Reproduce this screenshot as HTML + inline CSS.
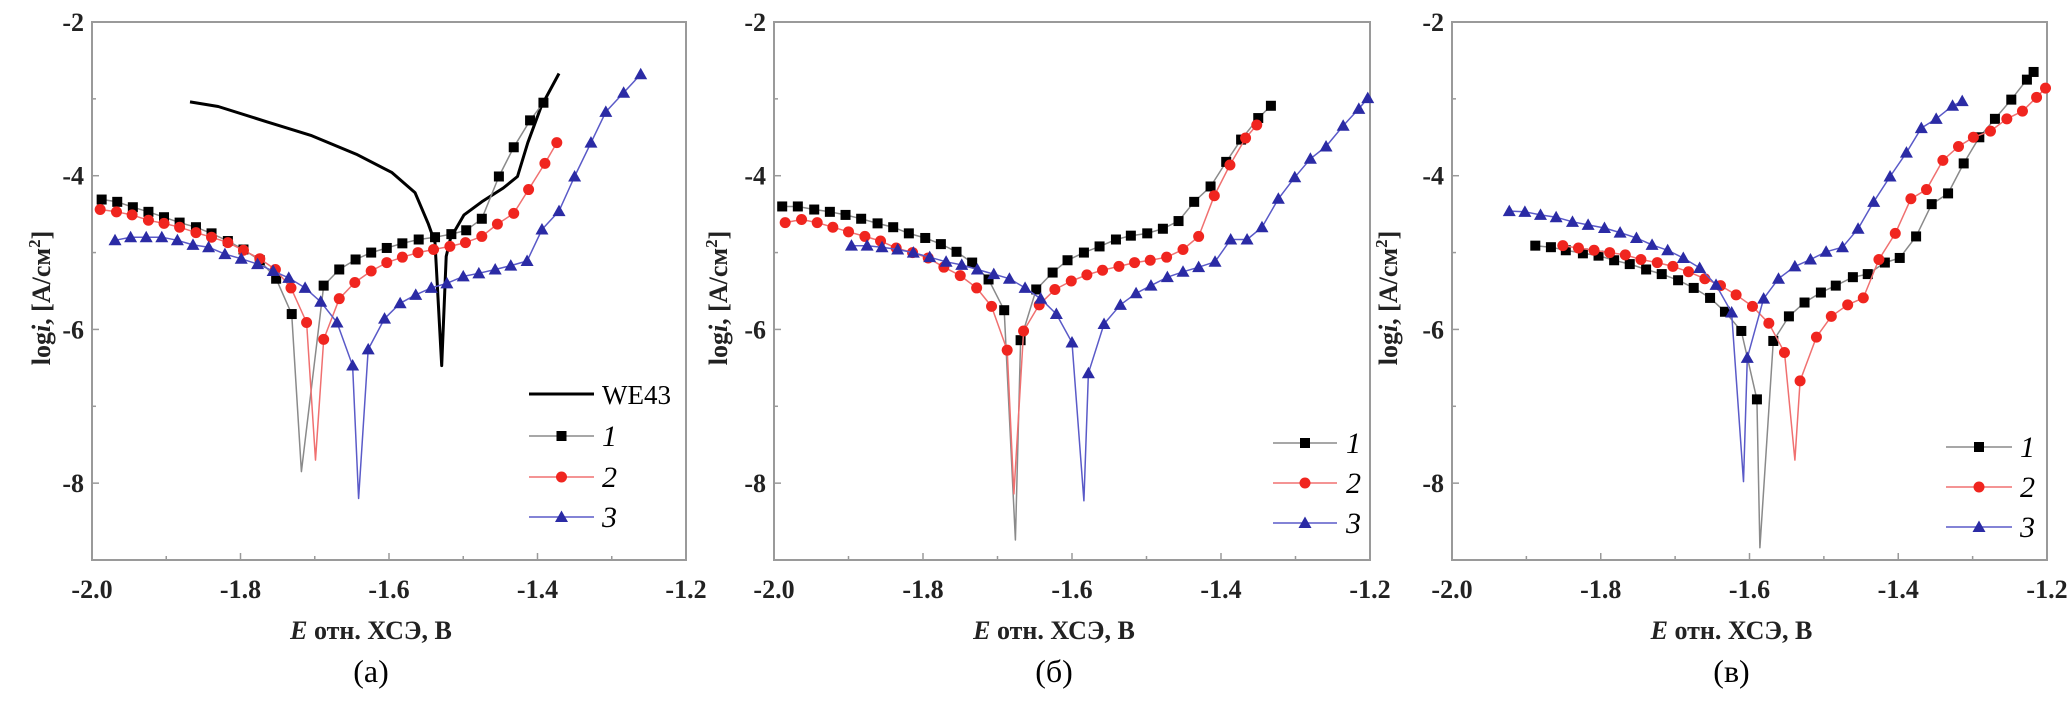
<!DOCTYPE html>
<html><head><meta charset="utf-8">
<style>
html,body{margin:0;padding:0;background:#fff;}
svg{display:block;}
text{font-family:"Liberation Serif",serif;}
</style></head>
<body>
<svg id="chart" width="2067" height="718" viewBox="0 0 2067 718" xmlns="http://www.w3.org/2000/svg"></svg>
<script>
// ---------- data ----------
const xTicks = [-2.0, -1.8, -1.6, -1.4, -1.2];
const xTickLabels = ["-2.0", "-1.8", "-1.6", "-1.4", "-1.2"];
const yTicks = [-2, -4, -6, -8];
const yTickLabels = ["-2", "-4", "-6", "-8"];
const panelLabels = ["(a)", "(б)", "(в)"];

// panel a
const aWE_E = [-1.868,-1.83,-1.764,-1.704,-1.644,-1.596,-1.565,-1.547,-1.538,-1.529,-1.523,-1.517,-1.499,-1.475,-1.446,-1.427,-1.413,-1.395,-1.371];
const aWE_L = [-3.04,-3.10,-3.30,-3.48,-3.72,-3.96,-4.22,-4.63,-4.87,-6.47,-5.05,-4.81,-4.51,-4.34,-4.16,-4.01,-3.57,-3.10,-2.67];
const a1_E = [-1.987,-1.966,-1.945,-1.924,-1.903,-1.882,-1.86,-1.839,-1.817,-1.796,-1.774,-1.752,-1.731,-1.688,-1.667,-1.645,-1.624,-1.603,-1.582,-1.56,-1.538,-1.516,-1.496,-1.475,-1.452,-1.432,-1.41,-1.392];
const a1_L = [-4.31,-4.34,-4.41,-4.47,-4.54,-4.61,-4.67,-4.75,-4.85,-4.96,-5.10,-5.34,-5.80,-5.43,-5.22,-5.09,-5.00,-4.94,-4.88,-4.83,-4.80,-4.76,-4.71,-4.56,-4.01,-3.63,-3.28,-3.05];
const a1_spike = [-1.718, -7.85];
const a2_E = [-1.989,-1.967,-1.946,-1.924,-1.903,-1.882,-1.86,-1.839,-1.817,-1.796,-1.774,-1.753,-1.732,-1.711,-1.688,-1.667,-1.646,-1.624,-1.603,-1.582,-1.561,-1.54,-1.518,-1.497,-1.475,-1.454,-1.432,-1.412,-1.39,-1.374];
const a2_L = [-4.44,-4.47,-4.51,-4.58,-4.62,-4.67,-4.74,-4.80,-4.87,-4.97,-5.08,-5.22,-5.46,-5.91,-6.13,-5.60,-5.39,-5.24,-5.13,-5.06,-5.00,-4.96,-4.92,-4.87,-4.79,-4.63,-4.49,-4.18,-3.84,-3.57];
const a2_spike = [-1.699, -7.7];
const a3_E = [-1.969,-1.948,-1.927,-1.906,-1.885,-1.864,-1.843,-1.821,-1.799,-1.777,-1.756,-1.735,-1.713,-1.692,-1.67,-1.649,-1.628,-1.606,-1.585,-1.564,-1.543,-1.522,-1.5,-1.479,-1.457,-1.436,-1.414,-1.394,-1.371,-1.35,-1.328,-1.308,-1.284,-1.261];
const a3_L = [-4.84,-4.80,-4.80,-4.80,-4.84,-4.90,-4.93,-5.02,-5.08,-5.15,-5.24,-5.33,-5.46,-5.64,-5.91,-6.47,-6.26,-5.86,-5.66,-5.55,-5.46,-5.40,-5.31,-5.27,-5.22,-5.17,-5.11,-4.70,-4.46,-4.01,-3.57,-3.17,-2.92,-2.68];
const a3_spike = [-1.641, -8.2];

// panel b
const b1_E = [-1.989,-1.968,-1.946,-1.925,-1.904,-1.883,-1.861,-1.840,-1.819,-1.797,-1.776,-1.755,-1.734,-1.712,-1.691,-1.669,-1.648,-1.626,-1.606,-1.584,-1.563,-1.541,-1.521,-1.499,-1.478,-1.457,-1.436,-1.414,-1.393,-1.373,-1.35,-1.333];
const b1_L = [-4.40,-4.40,-4.44,-4.47,-4.51,-4.56,-4.62,-4.67,-4.75,-4.81,-4.89,-4.99,-5.13,-5.35,-5.75,-6.14,-5.48,-5.26,-5.10,-5.00,-4.92,-4.83,-4.78,-4.75,-4.69,-4.59,-4.34,-4.14,-3.82,-3.53,-3.25,-3.09];
const b1_spike = [-1.676, -8.74];
const b2_E = [-1.985,-1.963,-1.942,-1.921,-1.900,-1.878,-1.857,-1.836,-1.814,-1.793,-1.772,-1.750,-1.728,-1.708,-1.687,-1.665,-1.644,-1.623,-1.601,-1.580,-1.559,-1.537,-1.516,-1.495,-1.473,-1.451,-1.430,-1.409,-1.388,-1.367,-1.352];
const b2_L = [-4.61,-4.57,-4.61,-4.67,-4.73,-4.79,-4.85,-4.94,-5.00,-5.07,-5.19,-5.30,-5.46,-5.70,-6.27,-6.02,-5.68,-5.48,-5.37,-5.29,-5.23,-5.18,-5.13,-5.10,-5.06,-4.96,-4.79,-4.26,-3.86,-3.51,-3.34];
const b2_spike = [-1.678, -8.14];
const b3_E = [-1.896,-1.875,-1.855,-1.834,-1.813,-1.791,-1.769,-1.748,-1.727,-1.705,-1.684,-1.663,-1.642,-1.621,-1.600,-1.578,-1.557,-1.535,-1.514,-1.494,-1.472,-1.451,-1.430,-1.408,-1.387,-1.365,-1.345,-1.323,-1.301,-1.280,-1.259,-1.236,-1.215,-1.203];
const b3_L = [-4.91,-4.91,-4.93,-4.96,-5.00,-5.06,-5.12,-5.16,-5.22,-5.28,-5.34,-5.46,-5.60,-5.80,-6.17,-6.57,-5.93,-5.68,-5.53,-5.43,-5.32,-5.25,-5.19,-5.12,-4.83,-4.83,-4.67,-4.30,-4.02,-3.78,-3.62,-3.35,-3.13,-2.99];
const b3_spike = [-1.584, -8.23];

// panel c
const c1_E = [-1.888,-1.867,-1.847,-1.824,-1.803,-1.782,-1.761,-1.739,-1.718,-1.696,-1.675,-1.653,-1.633,-1.611,-1.590,-1.568,-1.547,-1.526,-1.504,-1.484,-1.461,-1.441,-1.418,-1.398,-1.376,-1.355,-1.333,-1.312,-1.291,-1.270,-1.248,-1.227,-1.218];
const c1_L = [-4.91,-4.93,-4.97,-5.01,-5.04,-5.10,-5.15,-5.22,-5.28,-5.36,-5.46,-5.59,-5.77,-6.02,-6.91,-6.15,-5.83,-5.65,-5.52,-5.43,-5.32,-5.28,-5.13,-5.07,-4.79,-4.37,-4.23,-3.84,-3.50,-3.26,-3.01,-2.75,-2.65];
const c1_spike = [-1.586, -8.84];
const c2_E = [-1.851,-1.830,-1.809,-1.788,-1.767,-1.746,-1.724,-1.703,-1.682,-1.660,-1.639,-1.618,-1.596,-1.574,-1.553,-1.532,-1.510,-1.490,-1.468,-1.447,-1.426,-1.404,-1.383,-1.362,-1.340,-1.319,-1.299,-1.276,-1.254,-1.233,-1.214,-1.202];
const c2_L = [-4.91,-4.94,-4.97,-5.00,-5.03,-5.09,-5.13,-5.18,-5.25,-5.34,-5.43,-5.55,-5.70,-5.92,-6.30,-6.67,-6.10,-5.83,-5.68,-5.59,-5.09,-4.75,-4.30,-4.18,-3.80,-3.62,-3.50,-3.42,-3.26,-3.16,-2.98,-2.86];
const c2_spike = [-1.539, -7.70];
const c3_E = [-1.923,-1.902,-1.881,-1.860,-1.838,-1.817,-1.795,-1.774,-1.752,-1.731,-1.710,-1.689,-1.667,-1.645,-1.624,-1.603,-1.581,-1.561,-1.539,-1.518,-1.497,-1.475,-1.454,-1.433,-1.411,-1.389,-1.369,-1.349,-1.327,-1.314];
const c3_L = [-4.46,-4.47,-4.51,-4.54,-4.60,-4.64,-4.68,-4.74,-4.81,-4.90,-4.97,-5.07,-5.20,-5.42,-5.78,-6.37,-5.60,-5.34,-5.18,-5.09,-4.99,-4.93,-4.69,-4.34,-4.01,-3.70,-3.38,-3.26,-3.09,-3.03];
const c3_spike = [-1.608, -7.98];

// ---------- drawing ----------
const NS = "http://www.w3.org/2000/svg";
const svg = document.getElementById("chart");
function mk(tag, attrs, parent){
  const e = document.createElementNS(NS, tag);
  for (const k in attrs) e.setAttribute(k, attrs[k]);
  (parent||svg).appendChild(e);
  return e;
}
const TOP = 22, BOT = 560;
const STYLE = {
  s1:{line:"#8a8a8a", fill:"#000", marker:"square"},
  s2:{line:"#f07070", fill:"#f0251f", marker:"circle"},
  s3:{line:"#5a5ac8", fill:"#2b2ba5", marker:"triangle"},
  we:{line:"#000"}
};
function drawMarker(g, type, x, y, fill){
  let m;
  if (type === "square") m = mk("rect", {x:x-5, y:y-5, width:10, height:10, fill:fill}, g);
  else if (type === "circle") m = mk("circle", {cx:x, cy:y, r:5.5, fill:fill}, g);
  else m = mk("polygon", {points:`${x},${y-6.5} ${x+6.5},${y+5} ${x-6.5},${y+5}`, fill:fill}, g);
  
  
}
function panel(idx, left, right, series, legendLines, legendYs, legTx, legX1, legX2, ytitleX){
  const g = mk("g", {});
  
  
  const sx = v => left + (v + 2.0) / 0.8 * (right - left);
  const sy = v => TOP + (-2 - v) / 7 * (BOT - TOP);
  const frame = mk("rect", {x:left, y:TOP, width:right-left, height:BOT-TOP, fill:"none", stroke:"#9a9a9a", "stroke-width":2}, g);
  
  
  for (let v = -2.0; v <= -1.2001; v += 0.1) {
    const major = Math.abs(Math.round(v*10) % 2) === 0;
    mk("line", {x1:sx(v), x2:sx(v), y1:BOT, y2:BOT-(major?7:4), stroke:"#9a9a9a", "stroke-width":1.5}, g);
  }
  for (let v = -2; v >= -9; v -= 1) {
    const major = v % 2 === 0;
    mk("line", {x1:left, x2:left+(major?7:4), y1:sy(v), y2:sy(v), stroke:"#9a9a9a", "stroke-width":1.5}, g);
  }
  xTicks.forEach((v,i)=>{
    const t = mk("text", {x:sx(v), y:BOT+38, "text-anchor":"middle", "font-size":26, "font-weight":"bold", fill:"#222"}, g);
    t.textContent = xTickLabels[i];
    
    
  });
  yTicks.forEach((v,i)=>{
    const t = mk("text", {x:left-8, y:sy(v)+9, "text-anchor":"end", "font-size":26, "font-weight":"bold", fill:"#222"}, g);
    t.textContent = yTickLabels[i];
    
    
  });
  const yt = mk("text", {x:ytitleX, y:298, transform:`rotate(-90 ${ytitleX} 298)`, "text-anchor":"middle", "font-size":26, "font-weight":"bold", fill:"#222"}, g);
  yt.innerHTML = 'log<tspan font-style="italic">i</tspan>, [A/см<tspan dy="-10" font-size="17">2</tspan><tspan dy="10">]</tspan>';
  
  
  const cx = (left+right)/2 - 18;
  const xt = mk("text", {x:cx, y:639, "text-anchor":"middle", "font-size":26, "font-weight":"bold", fill:"#222"}, g);
  xt.innerHTML = '<tspan font-style="italic">E</tspan> отн. ХСЭ, В';
  
  
  const pl = mk("text", {x:cx, y:682, "text-anchor":"middle", "font-size":32, fill:"#000"}, g);
  pl.textContent = panelLabels[idx];
  
  
  series.forEach(s=>{
    const st = STYLE[s.key];
    const pts = s.E.map((e,i)=>[e, s.L[i]]);
    if (s.spike) pts.push(s.spike);
    pts.sort((p,q)=>p[0]-q[0]);
    const d = pts.map((p,i)=>(i?"L":"M")+sx(p[0]).toFixed(1)+","+sy(p[1]).toFixed(1)).join(" ");
    const path = mk("path", {d:d, fill:"none", stroke:st.line, "stroke-width":s.key==="we"?3:1.5, "stroke-linejoin":"round"}, g);
    
    
    if (st.marker) {
      const mg = mk("g", {}, g);
      
      
      s.E.forEach((e,i)=>drawMarker(mg, st.marker, sx(e), sy(s.L[i]), st.fill));
    }
  });
  const lg = mk("g", {}, g);
  
  
  legendLines.forEach((key,i)=>{
    const st = STYLE[key], y = legendYs[i];
    mk("line", {x1:legX1, x2:legX2, y1:y, y2:y, stroke:st.line, "stroke-width":key==="we"?3:1.5}, lg);
    if (st.marker) drawMarker(lg, st.marker, (legX1+legX2)/2, y, st.fill);
    const t = mk("text", {x:legTx, y:y+10, "font-size":key==="we"?27:30, "font-style":key==="we"?"normal":"italic", fill:"#000"}, lg);
    t.textContent = key==="we" ? "WE43" : key.slice(1);
    
    
  });
}
panel(0, 92, 686, [
  {key:"we", E:aWE_E, L:aWE_L},
  {key:"s1", E:a1_E, L:a1_L, spike:a1_spike},
  {key:"s2", E:a2_E, L:a2_L, spike:a2_spike},
  {key:"s3", E:a3_E, L:a3_L, spike:a3_spike}
], ["we","s1","s2","s3"], [394,436,477,517], 602, 529, 594, 50);
panel(1, 774, 1370, [
  {key:"s1", E:b1_E, L:b1_L, spike:b1_spike},
  {key:"s2", E:b2_E, L:b2_L, spike:b2_spike},
  {key:"s3", E:b3_E, L:b3_L, spike:b3_spike}
], ["s1","s2","s3"], [443,483,523], 1346, 1273, 1337, 727);
panel(2, 1452, 2047, [
  {key:"s1", E:c1_E, L:c1_L, spike:c1_spike},
  {key:"s2", E:c2_E, L:c2_L, spike:c2_spike},
  {key:"s3", E:c3_E, L:c3_L, spike:c3_spike}
], ["s1","s2","s3"], [447,487,527], 2020, 1946, 2012, 1397);
</script>
</body></html>
